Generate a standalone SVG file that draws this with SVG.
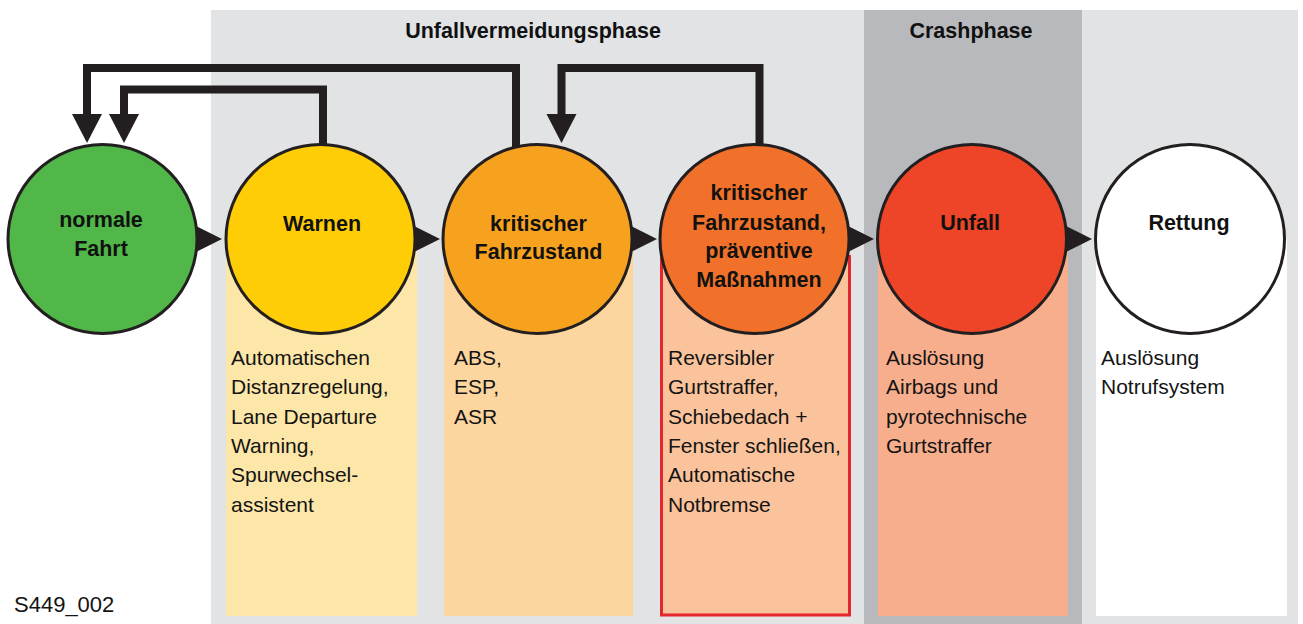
<svg xmlns="http://www.w3.org/2000/svg" width="1303" height="624" viewBox="0 0 1303 624">
<style>
.node{stroke:#231f20;stroke-width:3}
.lbl{font-family:"Liberation Sans",Arial,sans-serif;font-weight:bold;font-size:21.5px;fill:#111;text-anchor:middle}
.ttl{font-family:"Liberation Sans",Arial,sans-serif;font-weight:bold;font-size:21.5px;fill:#111;text-anchor:middle}
.body{font-family:"Liberation Sans",Arial,sans-serif;font-size:21px;fill:#141414}
.conn{fill:none;stroke:#231f20;stroke-width:8;stroke-linejoin:miter}
.head{fill:#231f20}
</style>
<rect width="1303" height="624" fill="#ffffff"/>
<g id="background">
<rect x="211" y="10" width="1087" height="614" fill="#e1e3e5"/>
<rect x="864" y="10" width="218" height="614" fill="#b7b9bc"/>
<text class="ttl" x="533" y="38">Unfallvermeidungsphase</text>
<text class="ttl" x="971" y="38">Crashphase</text>
</g>
<g id="columns">
<rect x="226" y="239" width="191" height="377" fill="#fde7a8"/>
<rect x="444" y="239" width="189" height="377" fill="#fdd59e"/>
<rect x="661.5" y="239" width="188" height="376" fill="#fbc39b"/>
<path d="M661.5 255 V615 H849.5 V255" fill="none" stroke="#e3262f" stroke-width="3"/>
<rect x="878" y="239" width="190" height="377" fill="#f7ae8d"/>
<rect x="1096" y="239" width="191" height="377" fill="#ffffff"/>
</g>
<g id="connectors">
<path class="conn" d="M516 150 V68 H87 V118"/>
<polygon class="head" points="72,114 102,114 87,143"/>
<path class="conn" d="M323 145 V89.5 H124 V118"/>
<polygon class="head" points="109,114 139,114 124,143"/>
<path class="conn" d="M759.5 150 V68 H561.5 V118"/>
<polygon class="head" points="546.5,114 576.5,114 561.5,143"/>
<polygon class="head" points="188,222 222,239 188,256"/>
<polygon class="head" points="406,222 440,239 406,256"/>
<polygon class="head" points="623,222 657,239 623,256"/>
<polygon class="head" points="840,222 874,239 840,256"/>
<polygon class="head" points="1058,222 1092,239 1058,256"/>
</g>
<g id="node-normale-fahrt">
<circle class="node" cx="102.5" cy="239" r="94.5" fill="#50b748"/>
<text class="lbl" x="101" y="227">normale</text>
<text class="lbl" x="101" y="256">Fahrt</text>
</g>
<g id="node-warnen">
<circle class="node" cx="320.5" cy="239" r="94.5" fill="#fecd06"/>
<text class="lbl" x="322" y="231">Warnen</text>
<text class="body" x="231" y="365">Automatischen</text>
<text class="body" x="231" y="394.3">Distanzregelung,</text>
<text class="body" x="231" y="423.6">Lane Departure</text>
<text class="body" x="231" y="453">Warning,</text>
<text class="body" x="231" y="482.3">Spurwechsel-</text>
<text class="body" x="231" y="511.6">assistent</text>
</g>
<g id="node-kritischer-fahrzustand">
<circle class="node" cx="537.5" cy="239" r="94.5" fill="#f7a21e"/>
<text class="lbl" x="538.5" y="231">kritischer</text>
<text class="lbl" x="538.5" y="259">Fahrzustand</text>
<text class="body" x="454" y="365">ABS,</text>
<text class="body" x="454" y="394.3">ESP,</text>
<text class="body" x="454" y="423.6">ASR</text>
</g>
<g id="node-praeventive-massnahmen">
<circle class="node" cx="754.5" cy="239" r="94.5" fill="#f1712a"/>
<text class="lbl" x="759" y="200">kritischer</text>
<text class="lbl" x="759" y="230">Fahrzustand,</text>
<text class="lbl" x="759" y="258">präventive</text>
<text class="lbl" x="759" y="287">Maßnahmen</text>
<text class="body" x="668" y="365">Reversibler</text>
<text class="body" x="668" y="394.3">Gurtstraffer,</text>
<text class="body" x="668" y="423.6">Schiebedach +</text>
<text class="body" x="668" y="453">Fenster schließen,</text>
<text class="body" x="668" y="482.3">Automatische</text>
<text class="body" x="668" y="511.6">Notbremse</text>
</g>
<g id="node-unfall">
<circle class="node" cx="972" cy="239" r="94.5" fill="#ee4427"/>
<text class="lbl" x="970" y="230">Unfall</text>
<text class="body" x="886" y="365">Auslösung</text>
<text class="body" x="886" y="394.3">Airbags und</text>
<text class="body" x="886" y="423.6">pyrotechnische</text>
<text class="body" x="886" y="453">Gurtstraffer</text>
</g>
<g id="node-rettung">
<circle class="node" cx="1190" cy="239" r="94.5" fill="#ffffff"/>
<text class="lbl" x="1189" y="230">Rettung</text>
<text class="body" x="1101" y="365">Auslösung</text>
<text class="body" x="1101" y="394.3">Notrufsystem</text>
</g>
<text class="body" x="14" y="612" style="font-size:22px">S449_002</text>
</svg>
